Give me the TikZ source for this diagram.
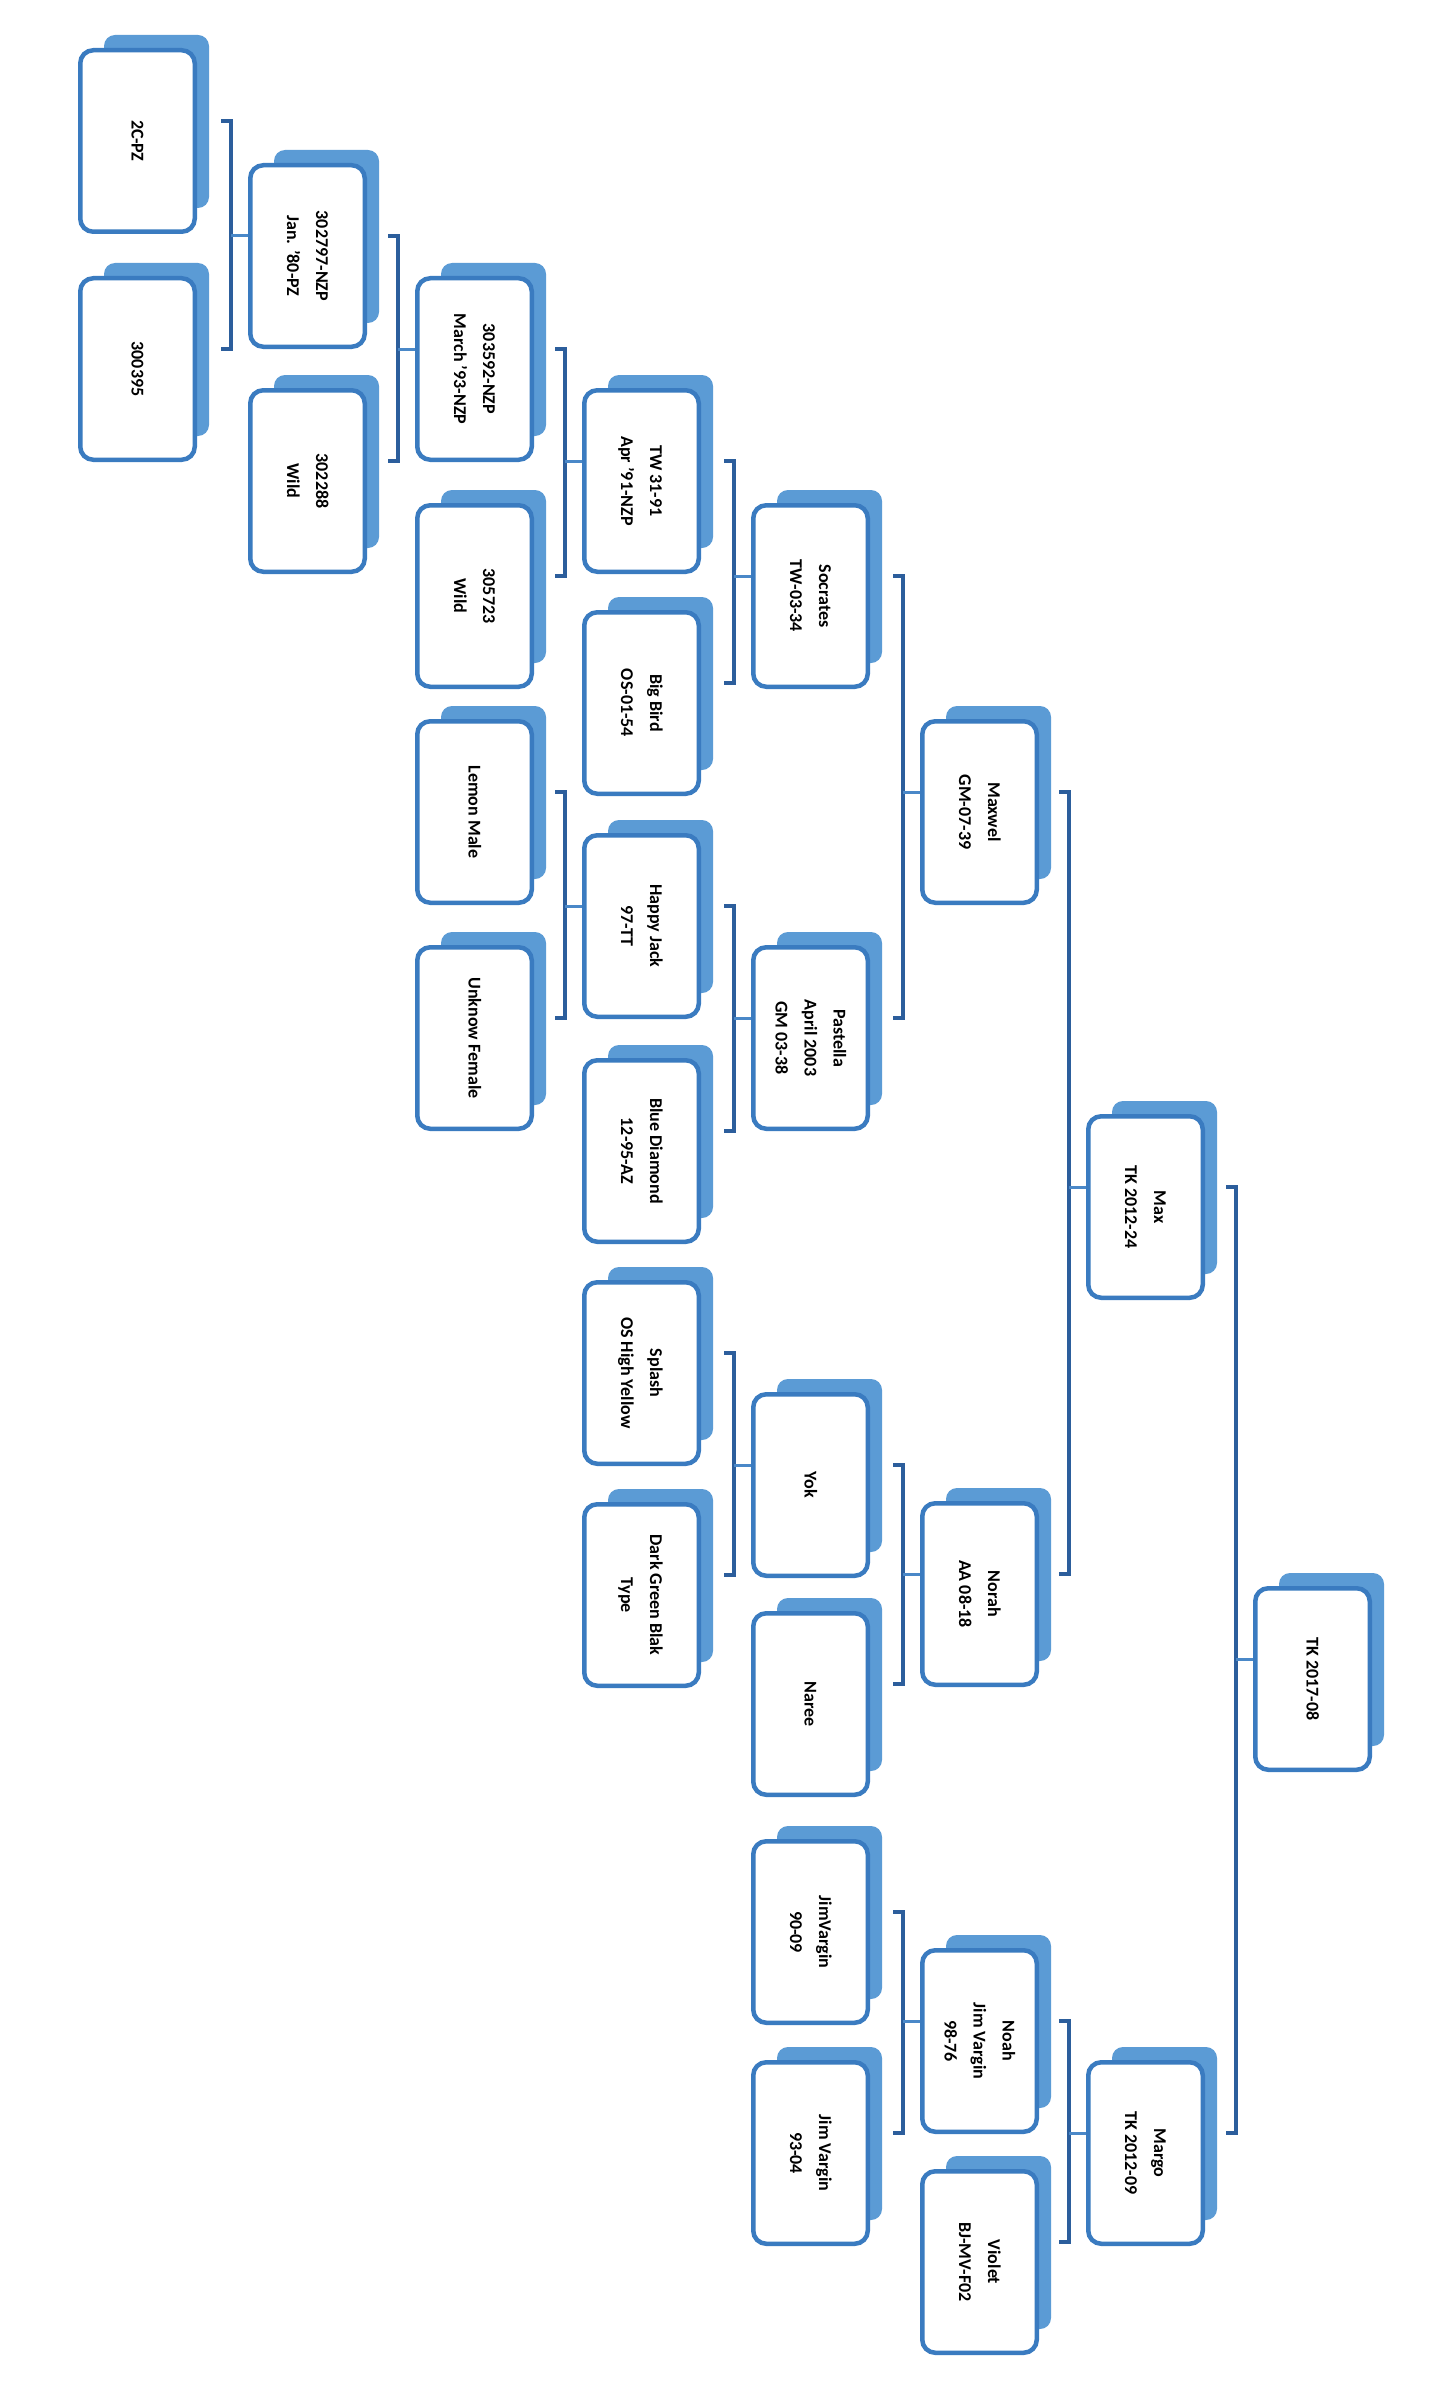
\documentclass[tikz,border=0pt]{standalone}
\usepackage{fontspec}
\usepackage{graphicx}
\setmainfont{Carlito}
\usetikzlibrary{calc}
\definecolor{shadowcol}{HTML}{5B9BD5}
\definecolor{bordercol}{HTML}{3A7BC0}
\definecolor{conncol}{HTML}{2C5E9C}
\definecolor{stubcol}{HTML}{4A88C8}
\tikzset{
  card/.style={draw=bordercol, line width=4.5pt, fill=white, rounded corners=13pt,
    minimum width=114.5pt, minimum height=181.5pt, inner sep=0pt,
    font=\fontsize{18pt}{29pt}\selectfont\bfseries},
  cardshadow/.style={fill=shadowcol, rounded corners=11pt},
  conn/.style={draw=conncol, line width=4.5pt},
  stub/.style={draw=stubcol, line width=3pt},
}
\newcommand\card[4]{%
  \fill[cardshadow] (#2-59.5+26,#3-93-13) rectangle (#2+59.5+12,#3+93-26);
  \node[card] (#1) at (#2,#3) {\rotatebox{-90}{\begin{tabular}{@{}c@{}}#4\end{tabular}}};
}
\newcommand\family[3]{%
  \path ([yshift=20pt]#1.center) coordinate (fa)
        ([yshift=20pt]#2.center) coordinate (fb)
        ([yshift=20pt]#3.west) coordinate (fc);
  \draw[conn] ($(fa -| fc)+(-27,0)$) -- ($(fa -| fc)+(-17,0)$) -- ($(fb -| fc)+(-17,0)$) -- ($(fb -| fc)+(-27,0)$);
  \draw[stub] ($(fc)+(-17,0)$) -- (fc);
}
\begin{document}
\begin{tikzpicture}[x=1pt,y=-1pt]
\fill[white] (0,0) rectangle (1440,2397);
\useasboundingbox (0,0) rectangle (1440,2397);
% generation 1
\card{A1}{137.5}{141}{2C-PZ}
\card{A2}{137.5}{369}{300395}
% generation 2
\card{B1}{307.5}{256}{302797-NZP\\Jan. '80-PZ}
\card{B2}{307.5}{481}{302288\\Wild}
% generation 3
\card{C1}{474.5}{369}{303592-NZP\\March '93-NZP}
\card{C2}{474.5}{596}{305723\\Wild}
\card{C3}{474.5}{812}{Lemon Male}
\card{C4}{474.5}{1038}{Unknow Female}
% generation 4
\card{D1}{641.5}{481}{TW 31-91\\Apr '91-NZP}
\card{D2}{641.5}{703}{Big Bird\\OS-01-54}
\card{D3}{641.5}{926}{Happy Jack\\97-TT}
\card{D4}{641.5}{1151}{Blue Diamond\\12-95-AZ}
\card{D5}{641.5}{1373}{Splash\\OS High Yellow}
\card{D6}{641.5}{1595}{Dark Green Blak\\Type}
% generation 5
\card{E1}{810.5}{596}{Socrates\\TW-03-34}
\card{E2}{810.5}{1038}{Pastella\\April 2003\\GM 03-38}
\card{E3}{810.5}{1485}{Yok}
\card{E4}{810.5}{1704}{Naree}
\card{E5}{810.5}{1932}{JimVargin\\90-09}
\card{E6}{810.5}{2153}{Jim Vargin\\93-04}
% generation 6
\card{F1}{979.5}{812}{Maxwel\\GM-07-39}
\card{F2}{979.5}{1594}{Norah\\AA 08-18}
\card{F3}{979.5}{2041}{Noah\\Jim Vargin\\98-76}
\card{F4}{979.5}{2262}{Violet\\BJ-MV-F02}
% generation 7
\card{G1}{1145.5}{1207}{Max\\TK 2012-24}
\card{G2}{1145.5}{2153}{Margo\\TK 2012-09}
% root
\card{H1}{1312.5}{1679}{TK 2017-08}
% connectors
\family{A1}{A2}{B1}
\family{B1}{B2}{C1}
\family{C1}{C2}{D1}
\family{D1}{D2}{E1}
\family{C3}{C4}{D3}
\family{D3}{D4}{E2}
\family{E1}{E2}{F1}
\family{D5}{D6}{E3}
\family{E3}{E4}{F2}
\family{F1}{F2}{G1}
\family{E5}{E6}{F3}
\family{F3}{F4}{G2}
\family{G1}{G2}{H1}
\end{tikzpicture}
\end{document}
